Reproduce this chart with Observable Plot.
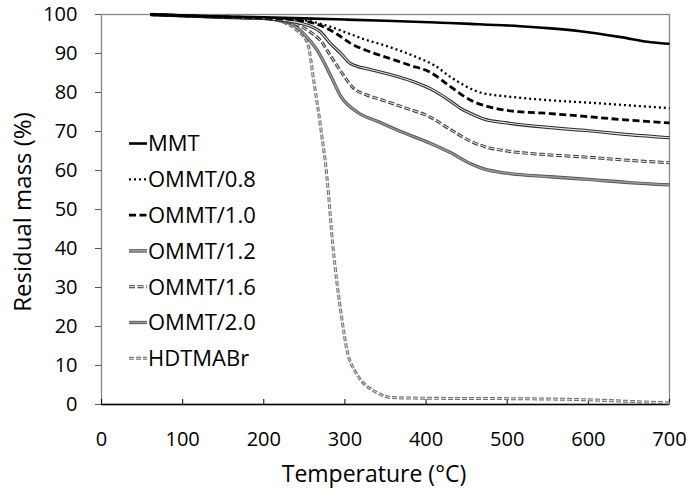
<!DOCTYPE html>
<html><head><meta charset="utf-8">
<script src="https://cdn.jsdelivr.net/npm/d3@7"></script>
<script src="https://cdn.jsdelivr.net/npm/@observablehq/plot@0.6"></script>
<style>body{margin:0;background:#fff} #chart{width:690px;height:493px}</style>
</head><body><div id="chart"></div>
<script>
// ---- data ----
const seriesNames = ["MMT", "OMMT/0.8", "OMMT/1.0", "OMMT/1.2", "OMMT/1.6", "OMMT/2.0", "HDTMABr"];

const T_MMT = [60, 100, 150, 200, 250, 300, 350, 418, 455, 516, 550, 590, 640, 677, 700];
const R_MMT = [100, 99.7, 99.5, 99.3, 99.0, 98.7, 98.4, 97.9, 97.6, 97.0, 96.5, 95.7, 94.2, 92.9, 92.5];

const T_08 = [60, 150, 200, 250, 280, 300, 323, 350, 389, 410, 430, 450, 467, 500, 553, 600, 650, 700];
const R_08 = [100, 99.4, 99.1, 98.5, 97, 95.5, 93.7, 92, 89, 87, 84, 81.5, 80, 79, 78, 77.4, 76.7, 76];

const T_10 = [60, 150, 200, 250, 270, 290, 307, 330, 356, 380, 405, 430, 455, 480, 500, 553, 600, 650, 700];
const R_10 = [100, 99.4, 99.1, 98.3, 97.2, 95, 92.6, 90.5, 88.7, 87, 85.2, 81.5, 78, 76.2, 75.4, 74.6, 73.8, 72.9, 72.2];

const T_12 = [60, 150, 200, 250, 270, 282, 295, 307, 331, 356, 383, 405, 430, 442, 455, 471, 500, 553, 600, 650, 700];
const R_12 = [100, 99.3, 99, 97.5, 95.5, 92.6, 90, 87.4, 85.9, 84.6, 82.9, 81, 77.8, 76, 74.6, 73.2, 72.2, 71, 70.2, 69.2, 68.4];

const T_16 = [60, 150, 200, 240, 258, 270, 282, 298, 311, 325, 344, 375, 405, 430, 455, 471, 500, 553, 600, 650, 700];
const R_16 = [100, 99.3, 99, 97.5, 95.4, 93.3, 89.5, 84.5, 81, 79.5, 78.2, 76, 73.7, 70.5, 67.5, 66.2, 65, 64, 63.4, 62.6, 62];

const T_20 = [60, 150, 200, 235, 249, 266, 282, 295, 315, 340, 365, 405, 430, 455, 471, 500, 553, 600, 650, 700];
const R_20 = [100, 99.3, 99, 97.5, 95.1, 90.8, 84.5, 79, 75, 72.6, 70.3, 67, 64.6, 61.7, 60.4, 59.3, 58.4, 57.7, 56.9, 56.3];

const T_HD = [60, 150, 200, 230, 241, 254, 262, 270, 278, 285, 295, 303, 313, 321, 331, 345, 356, 400, 500, 600, 650, 700];
const R_HD = [100, 99.3, 99, 97.5, 95.9, 92.6, 82.4, 71.2, 58, 41, 23.7, 13.5, 8.4, 5.9, 4.1, 2.5, 1.8, 1.6, 1.5, 1.2, 0.8, 0.4];

const xTicks = [0, 100, 200, 300, 400, 500, 600, 700];
const yTicks = [0, 10, 20, 30, 40, 50, 60, 70, 80, 90, 100];
const xTitle = "Temperature (°C)";
const yTitle = "Residual mass (%)";

// ---- build table ----
const seriesT = [T_MMT, T_08, T_10, T_12, T_16, T_20, T_HD];
const seriesR = [R_MMT, R_08, R_10, R_12, R_16, R_20, R_HD];
const rows = [];
seriesNames.forEach((s, i) => seriesT[i].forEach((t, j) => rows.push({series: s, T: t, R: seriesR[i][j]})));

// ---- styles (layers drawn bottom to top) ----
const lineStyles = {
  "MMT":      [{stroke: "#000", w: 2.6}],
  "OMMT/0.8": [{stroke: "#000", w: 2.3, dash: "2,3"}],
  "OMMT/1.0": [{stroke: "#000", w: 2.8, dash: "7,3.5"}],
  "OMMT/1.2": [{stroke: "#2a2a2a", w: 3.2}, {stroke: "#e6e6e6", w: 1.1}],
  "OMMT/1.6": [{stroke: "#3a3a3a", w: 3.0, dash: "6,2.5"}, {stroke: "#f2f2f2", w: 1.0, dash: "6,2.5"}],
  "OMMT/2.0": [{stroke: "#555", w: 3.3}, {stroke: "#9a9a9a", w: 1.5}],
  "HDTMABr":  [{stroke: "#6e6e6e", w: 3.0, dash: "5,2"}, {stroke: "#dcdcdc", w: 1.0, dash: "5,2"}]
};

const W = 690, H = 493, mL = 101, mR = 21, mT = 14, mB = 89;
const innerH = H - mT - mB;
const font = "'Open Sans', 'DejaVu Sans', sans-serif";

const lineMarks = [];
[...seriesNames].reverse().forEach(s => {
  const data = rows.filter(d => d.series === s);
  lineStyles[s].forEach(st => {
    lineMarks.push(Plot.line(data, {
      x: "T", y: "R", curve: "monotone-x",
      stroke: st.stroke, strokeWidth: st.w,
      strokeDasharray: st.dash || null, strokeLinecap: "butt", strokeLinejoin: "round"
    }));
  });
});

const chart = Plot.plot({
  width: W, height: H,
  marginLeft: mL, marginRight: mR, marginTop: mT, marginBottom: mB,
  style: {fontFamily: font, fontSize: "20px", color: "#000", background: "#fff", overflow: "visible"},
  x: {domain: [0, 700]},
  y: {domain: [0, 100]},
  marks: [
    Plot.frame({stroke: "#858585", strokeWidth: 1.3}),
    Plot.axisY({ticks: yTicks, tickSize: 6, tickPadding: 18, label: null, fontSize: 20, stroke: "#555"}),
    Plot.axisX({ticks: xTicks, tickSize: 0, tickPadding: 27, label: null, fontSize: 20}),
    Plot.tickX(xTicks, {x: d => d, insetTop: innerH - 5, stroke: "#000", strokeWidth: 1}),
    Plot.ruleY([0], {stroke: "#000", strokeWidth: 1.3}),
    ...lineMarks
  ]
});
document.getElementById("chart").appendChild(chart);

const svg = d3.select(chart.tagName.toLowerCase() === "svg" ? chart : chart.querySelector("svg"));

// ---- axis titles ----
svg.append("text").attr("x", 374).attr("y", 482)
  .attr("text-anchor", "middle").attr("font-family", font).attr("font-size", 23).attr("fill", "#000")
  .text(xTitle);
svg.append("text").attr("transform", "translate(31,212) rotate(-90)")
  .attr("text-anchor", "middle").attr("font-family", font).attr("font-size", 24).attr("fill", "#000")
  .text(yTitle);

// ---- legend (inside the plot area) ----
const lg = svg.append("g").attr("font-family", font).attr("font-size", 22);
seriesNames.forEach((s, i) => {
  const cy = 143.5 + i * 35.8;
  lineStyles[s].forEach(st => {
    lg.append("line").attr("x1", 129).attr("x2", 147).attr("y1", cy).attr("y2", cy)
      .attr("stroke", st.stroke).attr("stroke-width", st.w)
      .attr("stroke-dasharray", st.dash || null);
  });
  lg.append("text").attr("x", 148).attr("y", cy + 7.9).attr("text-anchor", "start").attr("fill", "#000").text(s);
});
</script>
</body></html>
